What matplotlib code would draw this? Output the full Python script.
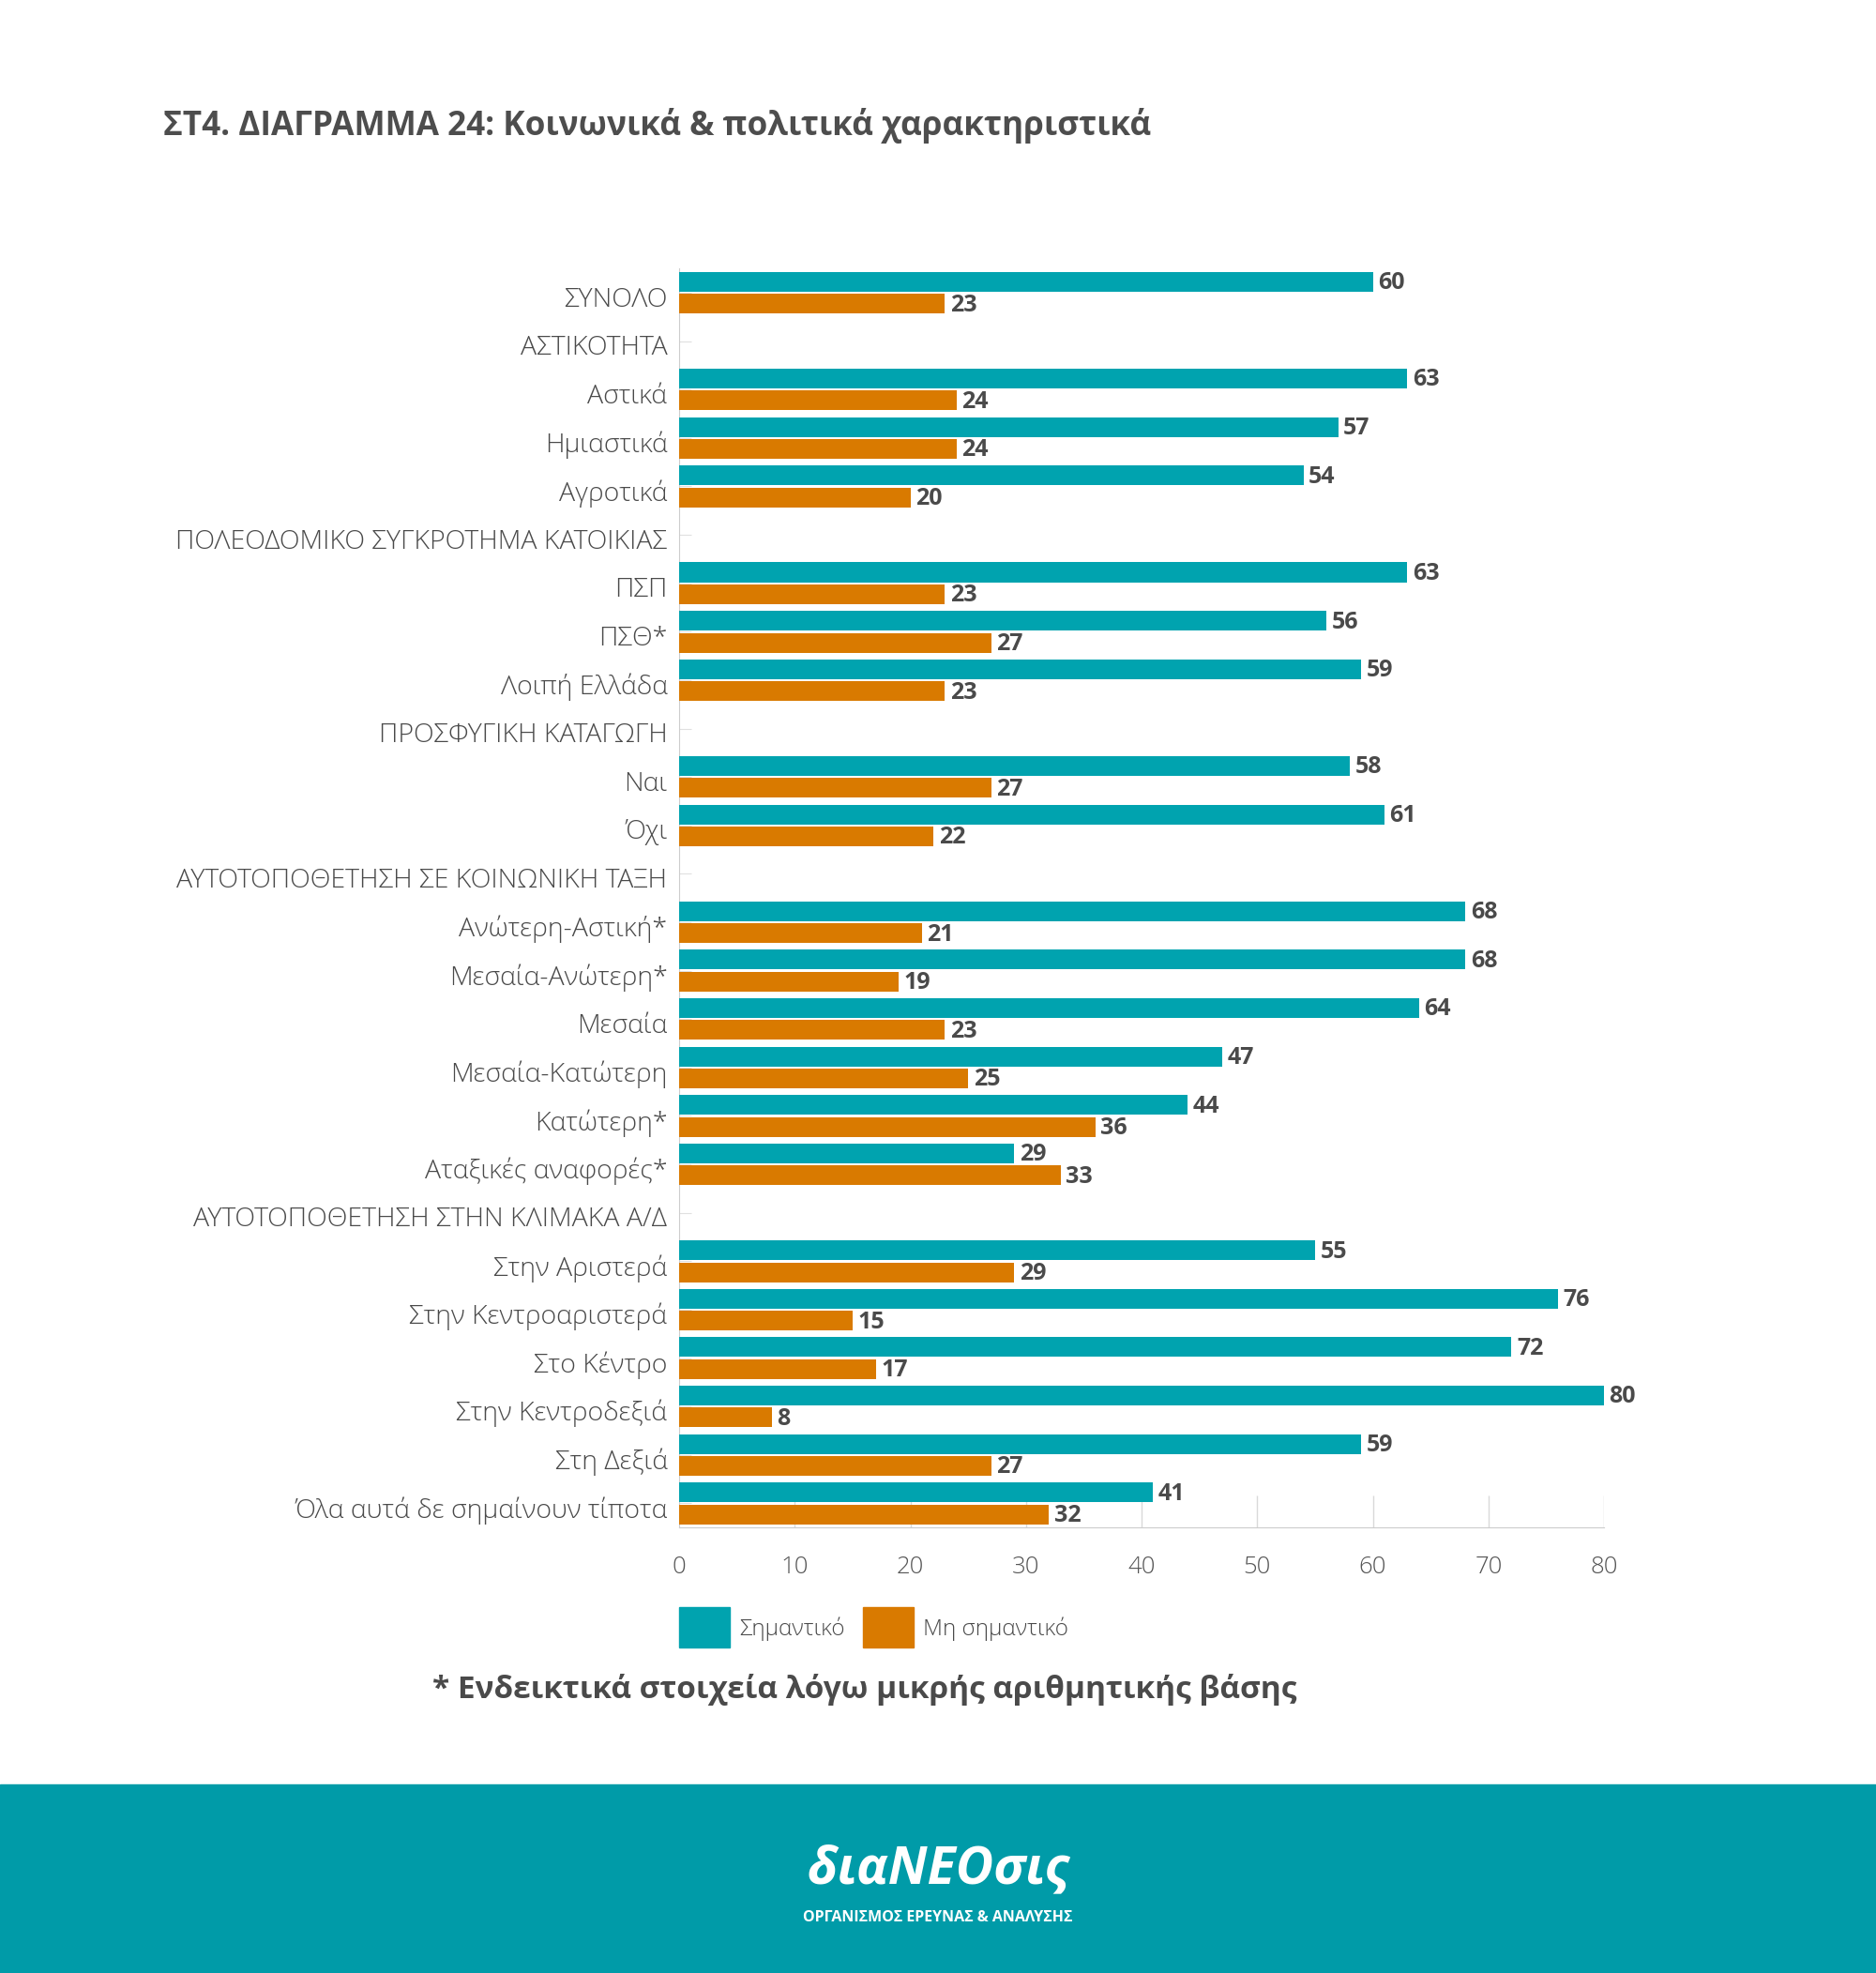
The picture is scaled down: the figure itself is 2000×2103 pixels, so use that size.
import numpy as np
import matplotlib.pyplot as plt
from matplotlib.patches import Rectangle
import matplotlib.transforms as mtransforms

plt.rcParams['font.family'] = ['Open Sans', 'DejaVu Sans']

# --- data ---
labels = [
    'ΣΥΝΟΛΟ',
    'ΑΣΤΙΚΟΤΗΤΑ',
    'Αστικά', 'Ημιαστικά', 'Αγροτικά',
    'ΠΟΛΕΟΔΟΜΙΚΟ ΣΥΓΚΡΟΤΗΜΑ ΚΑΤΟΙΚΙΑΣ',
    'ΠΣΠ', 'ΠΣΘ*', 'Λοιπή Ελλάδα',
    'ΠΡΟΣΦΥΓΙΚΗ ΚΑΤΑΓΩΓΗ',
    'Ναι', 'Όχι',
    'ΑΥΤΟΤΟΠΟΘΕΤΗΣΗ ΣΕ ΚΟΙΝΩΝΙΚΗ ΤΑΞΗ',
    'Ανώτερη-Αστική*', 'Μεσαία-Ανώτερη*', 'Μεσαία', 'Μεσαία-Κατώτερη',
    'Κατώτερη*', 'Αταξικές αναφορές*',
    'ΑΥΤΟΤΟΠΟΘΕΤΗΣΗ ΣΤΗΝ ΚΛΙΜΑΚΑ Α/Δ',
    'Στην Αριστερά', 'Στην Κεντροαριστερά', 'Στο Κέντρο', 'Στην Κεντροδεξιά',
    'Στη Δεξιά', 'Όλα αυτά δε σημαίνουν τίποτα',
]
nan = np.nan
important = [60, nan, 63, 57, 54, nan, 63, 56, 59, nan, 58, 61, nan,
             68, 68, 64, 47, 44, 29, nan, 55, 76, 72, 80, 59, 41]
not_important = [23, nan, 24, 24, 20, nan, 23, 27, 23, nan, 27, 22, nan,
                 21, 19, 23, 25, 36, 33, nan, 29, 15, 17, 8, 27, 32]
series_names = ['Σημαντικό', 'Μη σημαντικό']
xticks = [0, 10, 20, 30, 40, 50, 60, 70, 80]

teal = '#00A3AF'
orange = '#D97A00'
text_gray = '#4a4a4a'
grid_gray = '#d9d9d9'

fig = plt.figure(figsize=(20, 21.03), dpi=100)
ax = fig.add_axes([0.362, 0.2260, 0.493, 0.6380])

y = np.arange(len(labels))
h = 0.407
off = 0.227
imp = np.array(important, dtype=float)
nimp = np.array(not_important, dtype=float)
mask = ~np.isnan(imp)

ax.barh(y[mask] - off, imp[mask], height=h, color=teal, zorder=3)
ax.barh(y[mask] + off, nimp[mask], height=h, color=orange, zorder=3)

for yi, v in zip(y[mask], imp[mask]):
    ax.annotate(f'{int(v)}', (v, yi - off), xytext=(4, -1), textcoords='offset points',
                va='center', ha='left', fontsize=18, fontweight='bold', color=text_gray)
for yi, v in zip(y[mask], nimp[mask]):
    ax.annotate(f'{int(v)}', (v, yi + off), xytext=(4, -1), textcoords='offset points',
                va='center', ha='left', fontsize=18, fontweight='bold', color=text_gray)

ax.set_xlim(0, 80)
ax.set_ylim(len(labels) - 1 + 0.49, -0.504)
ax.set_yticks(y)
ax.set_yticklabels(labels, fontsize=20.5, color=text_gray, fontweight='light')
ax.set_xticks(xticks)
ax.set_xticklabels([str(t) for t in xticks], fontsize=18.5, color='#555555', fontweight='light')
ax.tick_params(axis='y', direction='in', length=9, color='#e0e0e0', pad=9)
ax.tick_params(axis='x', length=0, pad=22)

# category labels sit a little below the tick centre
shift = mtransforms.ScaledTranslation(0, -4 / 100, fig.dpi_scale_trans)
for lab in ax.get_yticklabels():
    lab.set_transform(lab.get_transform() + shift)

# short gridlines near the bottom only
trans = mtransforms.blended_transform_factory(ax.transData, ax.transAxes)
ax.vlines(xticks[1:], 0, 0.025, transform=trans, color=grid_gray, lw=1, zorder=1)

for s in ['top', 'right']:
    ax.spines[s].set_visible(False)
ax.spines['left'].set_color('#cccccc')
ax.spines['bottom'].set_color('#cccccc')

# title
fig.text(0.087, 1 - 134 / 2103, 'ΣΤ4. ΔΙΑΓΡΑΜΜΑ 24: Κοινωνικά & πολιτικά χαρακτηριστικά',
         fontsize=25.3, fontweight='bold', color='#4d4d4d', va='center', ha='left')

# legend
H = 2103
for x0, c, name in [(724, teal, series_names[0]), (920, orange, series_names[1])]:
    fig.patches.append(Rectangle((x0 / 2000, 1 - 1756 / H), 54 / 2000, 43 / H,
                                 transform=fig.transFigure, color=c))
    fig.text((x0 + 64) / 2000, 1 - 1736 / H, name, fontsize=17.5, color=text_gray,
             fontweight='light', va='center', ha='left')

# footnote
fig.text(922 / 2000, 1 - 1801 / H, '* Ενδεικτικά στοιχεία λόγω μικρής αριθμητικής βάσης',
         fontsize=24, fontweight='bold', color=text_gray, va='center', ha='center')

# footer band
fig.patches.append(Rectangle((0, 0), 1, (H - 1902) / H, transform=fig.transFigure,
                             color='#009BA8', zorder=0))
fig.text(0.5, 1 - 1993 / H, 'διαΝΕΟσις', fontsize=40, fontweight='bold', style='italic',
         color='white', va='center', ha='center')
fig.text(0.5, 1 - 2044 / H, 'ΟΡΓΑΝΙΣΜΟΣ ΕΡΕΥΝΑΣ & ΑΝΑΛΥΣΗΣ', fontsize=11.5, fontweight='bold',
         color='white', va='center', ha='center')

fig.savefig('out.png', dpi=100, facecolor='white')
